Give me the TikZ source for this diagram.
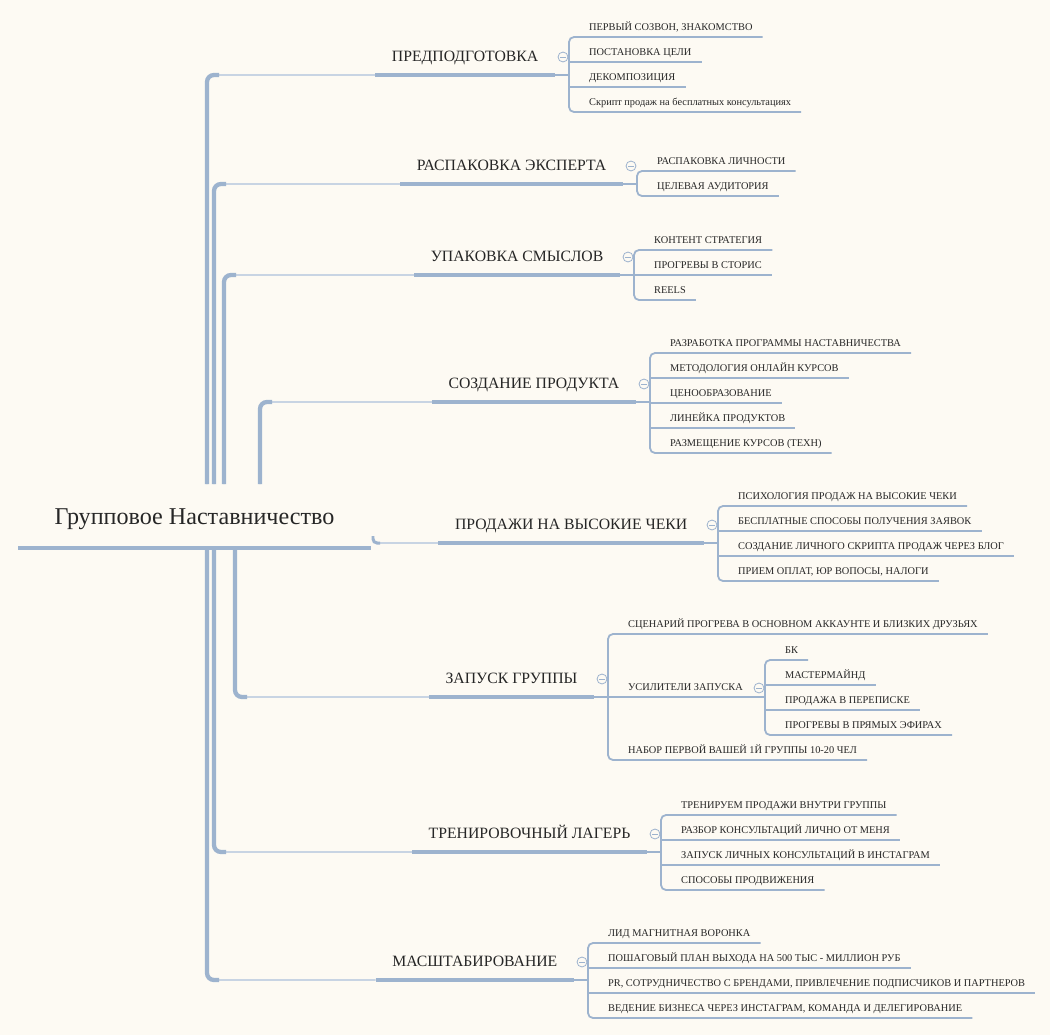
\documentclass[tikz,border=0pt]{standalone}
\usepackage{fontspec}
\setmainfont{Liberation Serif}
\usetikzlibrary{calc}

\definecolor{paper}{HTML}{FDFAF3}
\definecolor{stem}{HTML}{9DB3CE}
\definecolor{fade}{HTML}{C8D4E3}
\definecolor{ink}{HTML}{262626}

\tikzset{
  root/.style={anchor=south,minimum width=353pt,inner xsep=0pt,inner ysep=18pt,
    text depth=5pt,font=\fontsize{24.2}{27}\selectfont,text=ink},
  topic/.style={anchor=south east,inner xsep=16.5pt,inner ysep=10pt,text height=11pt,
    text depth=3pt,font=\fontsize{15.8}{18}\selectfont,text=ink},
  leaf/.style={anchor=south west,inner xsep=10pt,inner ysep=4.5pt,text height=7pt,
    text depth=2pt,font=\fontsize{10.4}{12}\selectfont,text=ink,
    execute at begin node=\hspace*{10pt}},
  bar/.style={stem,line width=4pt},
  trunk/.style={stem,line width=4.3pt,rounded corners=7pt},
  link/.style={fade,line width=1.8pt,rounded corners=7pt},
  twig/.style={stem,line width=1.8pt,rounded corners=5pt},
  fold/.style={circle,draw=stem,fill=paper,line width=0.8pt,minimum size=10pt,inner sep=0pt,
    path picture={\draw[stem,line width=0.8pt]
      ([xshift=-3pt]path picture bounding box.center) -- ([xshift=3pt]path picture bounding box.center);}}
}

\begin{document}
\begin{tikzpicture}[x=1bp,y=-1bp]
\fill[paper] (0,0) rectangle (1050,1035);

% centre
\node[root] (root) at (194.5,548) {Групповое Наставничество};
\coordinate (up1) at (207,484);
\coordinate (up2) at (214,484);
\coordinate (up3) at (224,484);
\coordinate (up4) at (260,484);
\coordinate (dn1) at (235,546);
\coordinate (dn2) at (214,546);
\coordinate (dn3) at (207,546);
\coordinate (side) at (373,536);

% 1
\node[topic] (prep) at (555,75) {ПРЕДПОДГОТОВКА};
\foreach \t [count=\i] in {{ПЕРВЫЙ СОЗВОН, ЗНАКОМСТВО},ПОСТАНОВКА ЦЕЛИ,ДЕКОМПОЗИЦИЯ,Скрипт продаж на бесплатных консультациях}
    \node[leaf] (prep-\i) at (569,12+25*\i) {\t};
\draw[link] (up1) |- (prep.south west);
\draw[trunk] (up1) |- ($(up1 |- prep.south)+(12,0)$);
\draw[bar] (prep.south west) -- (prep.south east);
\draw[twig] (prep.south east) -- (prep.south east -| prep-1.south west);
\draw[twig] (prep-1.south east) -- (prep-1.south west) -- (prep-4.south west) -- (prep-4.south east);
\foreach \i in {2,3}
    \draw[twig] (prep-\i.south west) -- (prep-\i.south east);
\node[fold] (prep-fold) at ($(prep.south east -| prep-1.south west)+(-6,-18)$) {};

% 2
\node[topic] (unpack) at (623,184) {РАСПАКОВКА ЭКСПЕРТА};
\foreach \t [count=\i] in {РАСПАКОВКА ЛИЧНОСТИ,ЦЕЛЕВАЯ АУДИТОРИЯ}
    \node[leaf] (unpack-\i) at (637,146+25*\i) {\t};
\draw[link] (up2) |- (unpack.south west);
\draw[trunk] (up2) |- ($(up2 |- unpack.south)+(12,0)$);
\draw[bar] (unpack.south west) -- (unpack.south east);
\draw[twig] (unpack.south east) -- (unpack.south east -| unpack-1.south west);
\draw[twig] (unpack-1.south east) -- (unpack-1.south west) -- (unpack-2.south west) -- (unpack-2.south east);
\node[fold] (unpack-fold) at ($(unpack.south east -| unpack-1.south west)+(-6,-18)$) {};

% 3
\node[topic] (wrap) at (620,275) {УПАКОВКА СМЫСЛОВ};
\foreach \t [count=\i] in {КОНТЕНТ СТРАТЕГИЯ,ПРОГРЕВЫ В СТОРИС,REELS}
    \node[leaf] (wrap-\i) at (634,225+25*\i) {\t};
\draw[link] (up3) |- (wrap.south west);
\draw[trunk] (up3) |- ($(up3 |- wrap.south)+(12,0)$);
\draw[bar] (wrap.south west) -- (wrap.south east);
\draw[twig] (wrap.south east) -- (wrap.south east -| wrap-1.south west);
\draw[twig] (wrap-1.south east) -- (wrap-1.south west) -- (wrap-3.south west) -- (wrap-3.south east);
\draw[twig] (wrap-2.south west) -- (wrap-2.south east);
\node[fold] (wrap-fold) at ($(wrap.south east -| wrap-1.south west)+(-6,-18)$) {};

% 4
\node[topic] (make) at (636,402) {СОЗДАНИЕ ПРОДУКТА};
\foreach \t [count=\i] in {РАЗРАБОТКА ПРОГРАММЫ НАСТАВНИЧЕСТВА,МЕТОДОЛОГИЯ ОНЛАЙН КУРСОВ,ЦЕНООБРАЗОВАНИЕ,ЛИНЕЙКА ПРОДУКТОВ,РАЗМЕЩЕНИЕ КУРСОВ (ТЕХН)}
    \node[leaf] (make-\i) at (650,328+25*\i) {\t};
\draw[link] (up4) |- (make.south west);
\draw[trunk] (up4) |- ($(up4 |- make.south)+(12,0)$);
\draw[bar] (make.south west) -- (make.south east);
\draw[twig] (make.south east) -- (make.south east -| make-1.south west);
\draw[twig] (make-1.south east) -- (make-1.south west) -- (make-5.south west) -- (make-5.south east);
\foreach \i in {2,3,4}
    \draw[twig] (make-\i.south west) -- (make-\i.south east);
\node[fold] (make-fold) at ($(make.south east -| make-1.south west)+(-6,-18)$) {};

% 5
\node[topic] (sales) at (704,543) {ПРОДАЖИ НА ВЫСОКИЕ ЧЕКИ};
\foreach \t [count=\i] in {ПСИХОЛОГИЯ ПРОДАЖ НА ВЫСОКИЕ ЧЕКИ,БЕСПЛАТНЫЕ СПОСОБЫ ПОЛУЧЕНИЯ ЗАЯВОК,СОЗДАНИЕ ЛИЧНОГО СКРИПТА ПРОДАЖ ЧЕРЕЗ БЛОГ,{ПРИЕМ ОПЛАТ, ЮР ВОПОСЫ, НАЛОГИ}}
    \node[leaf] (sales-\i) at (718,481+25*\i) {\t};
\draw[link,rounded corners=5pt] (side) |- (sales.south west);
\draw[trunk,line width=3pt,rounded corners=4pt] (side) |- ($(side |- sales.south)+(7,0)$);
\draw[bar] (sales.south west) -- (sales.south east);
\draw[twig] (sales.south east) -- (sales.south east -| sales-1.south west);
\draw[twig] (sales-1.south east) -- (sales-1.south west) -- (sales-4.south west) -- (sales-4.south east);
\foreach \i in {2,3}
    \draw[twig] (sales-\i.south west) -- (sales-\i.south east);
\node[fold] (sales-fold) at ($(sales.south east -| sales-1.south west)+(-6,-18)$) {};

% 6
\node[topic] (launch) at (594,697) {ЗАПУСК ГРУППЫ};
\node[leaf] (scen) at (608,634) {СЦЕНАРИЙ ПРОГРЕВА В ОСНОВНОМ АККАУНТЕ И БЛИЗКИХ ДРУЗЬЯХ};
\node[leaf] (boost) at (608,697) {УСИЛИТЕЛИ ЗАПУСКА};
\node[leaf] (first) at (608,760) {НАБОР ПЕРВОЙ ВАШЕЙ 1Й ГРУППЫ 10-20 ЧЕЛ};
\foreach \t [count=\i] in {БК,МАСТЕРМАЙНД,ПРОДАЖА В ПЕРЕПИСКЕ,ПРОГРЕВЫ В ПРЯМЫХ ЭФИРАХ}
    \node[leaf] (boost-\i) at (765,635+25*\i) {\t};
\draw[link] (dn1) |- (launch.south west);
\draw[trunk] (dn1) |- ($(dn1 |- launch.south)+(12,0)$);
\draw[bar] (launch.south west) -- (launch.south east);
\draw[twig] (launch.south east) -- (boost.south west);
\draw[twig] (scen.south east) -- (scen.south west) -- (first.south west) -- (first.south east);
\draw[twig] (boost.south west) -- (boost.south west -| boost-1.south west);
\draw[twig] (boost-1.south east) -- (boost-1.south west) -- (boost-4.south west) -- (boost-4.south east);
\foreach \i in {2,3}
    \draw[twig] (boost-\i.south west) -- (boost-\i.south east);
\node[fold] (launch-fold) at ($(boost.south west)+(-6,-18)$) {};
\node[fold] (boost-fold) at ($(boost.south west -| boost-1.south west)+(-6,-9)$) {};

% 7
\node[topic] (camp) at (647,852) {ТРЕНИРОВОЧНЫЙ ЛАГЕРЬ};
\foreach \t [count=\i] in {ТРЕНИРУЕМ ПРОДАЖИ ВНУТРИ ГРУППЫ,РАЗБОР КОНСУЛЬТАЦИЙ ЛИЧНО ОТ МЕНЯ,ЗАПУСК ЛИЧНЫХ КОНСУЛЬТАЦИЙ В ИНСТАГРАМ,СПОСОБЫ ПРОДВИЖЕНИЯ}
    \node[leaf] (camp-\i) at (661,790+25*\i) {\t};
\draw[link] (dn2) |- (camp.south west);
\draw[trunk] (dn2) |- ($(dn2 |- camp.south)+(12,0)$);
\draw[bar] (camp.south west) -- (camp.south east);
\draw[twig] (camp.south east) -- (camp.south east -| camp-1.south west);
\draw[twig] (camp-1.south east) -- (camp-1.south west) -- (camp-4.south west) -- (camp-4.south east);
\foreach \i in {2,3}
    \draw[twig] (camp-\i.south west) -- (camp-\i.south east);
\node[fold] (camp-fold) at ($(camp.south east -| camp-1.south west)+(-6,-18)$) {};

% 8
\node[topic] (scale) at (574,980) {МАСШТАБИРОВАНИЕ};
\foreach \t [count=\i] in {ЛИД МАГНИТНАЯ ВОРОНКА,ПОШАГОВЫЙ ПЛАН ВЫХОДА НА 500 ТЫС - МИЛЛИОН РУБ,{PR, СОТРУДНИЧЕСТВО С БРЕНДАМИ, ПРИВЛЕЧЕНИЕ ПОДПИСЧИКОВ И ПАРТНЕРОВ},{ВЕДЕНИЕ БИЗНЕСА ЧЕРЕЗ ИНСТАГРАМ, КОМАНДА И ДЕЛЕГИРОВАНИЕ}}
    \node[leaf] (scale-\i) at (588,918+25*\i) {\t};
\draw[link] (dn3) |- (scale.south west);
\draw[trunk] (dn3) |- ($(dn3 |- scale.south)+(12,0)$);
\draw[bar] (scale.south west) -- (scale.south east);
\draw[twig] (scale.south east) -- (scale.south east -| scale-1.south west);
\draw[twig] (scale-1.south east) -- (scale-1.south west) -- (scale-4.south west) -- (scale-4.south east);
\foreach \i in {2,3}
    \draw[twig] (scale-\i.south west) -- (scale-\i.south east);
\node[fold] (scale-fold) at ($(scale.south east -| scale-1.south west)+(-6,-18)$) {};

\draw[bar,line width=4.5pt] (root.south west) -- (root.south east);
\end{tikzpicture}
\end{document}
